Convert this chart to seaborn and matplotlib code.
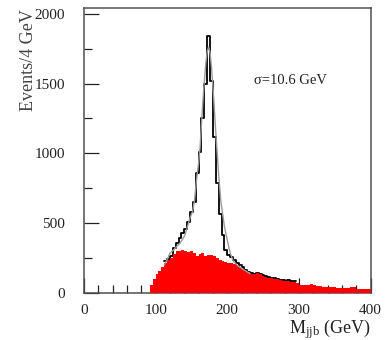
import numpy as np
import pandas as pd
import matplotlib
matplotlib.use("Agg")
import matplotlib.pyplot as plt
import seaborn as sns
from matplotlib.ticker import MultipleLocator, FixedLocator

# ---------------- data ----------------
bin_width = 4  # GeV

# red filled histogram (background), bins starting at 92 GeV
bkg_start = 92
bkg_counts = [59, 100, 140, 160, 190, 215, 235, 255, 280, 300,
              300, 310, 300, 295, 300, 290, 265, 280, 285, 265,
              275, 275, 270, 250, 235, 228, 226, 220, 215, 212,
              200, 190, 175, 162, 150, 140, 135, 145, 135, 125,
              120, 112, 108, 105, 100, 95, 88, 86, 88, 82,
              84, 75, 62, 60, 58, 62, 64, 56, 54, 50,
              48, 47, 46, 44, 42, 40, 38, 40, 36, 38,
              46, 42, 34, 32, 32, 30, 28]

# black outlined histogram (total), bins starting at 112 GeV
tot_start = 112
tot_counts = [228, 245, 265, 322, 360, 395, 430, 460, 510, 580,
              655, 860, 1010, 1250, 1500, 1838, 1520, 1120, 790, 570,
              420, 310, 273, 259, 237, 215, 200, 185, 168, 154,
              145, 140, 148, 138, 128, 122, 115, 110, 107, 102,
              97, 92, 90, 92, 88, 86]

# grey fitted curve, sampled points (GeV, events)
fit_mass = [112, 116, 120, 124, 127, 130, 134, 138, 141, 145.5,
            148, 151.5, 154.3, 157.6, 160, 162, 164.6, 167, 170, 172,
            174, 176, 178, 181, 184, 188, 191, 196, 200, 204,
            208, 214, 222, 232]
fit_counts = [202, 240, 286, 305, 321, 338, 359, 390, 416, 495,
              540, 583, 666, 833, 930, 1040, 1261, 1450, 1640, 1730,
              1760, 1720, 1620, 1400, 1150, 850, 660, 480, 380, 290,
              235, 200, 172, 140]

x_ticks = [0, 100, 200, 300, 400]
y_ticks = [0, 500, 1000, 1500, 2000]
x_label = r"M$_{\mathrm{jjb}}$ (GeV)"
y_label = "Events/4 GeV"
sigma_label = "σ=10.6 GeV"

# ---------------- figure ----------------
sns.set_theme(style="ticks")
plt.rcParams["font.family"] = ["Liberation Serif", "DejaVu Serif"]
plt.rcParams["mathtext.fontset"] = "custom"
plt.rcParams["mathtext.rm"] = "Liberation Serif"
plt.rcParams["mathtext.it"] = "Liberation Serif:italic"

fig = plt.figure(figsize=(3.86, 3.40), dpi=100)
fig.patch.set_facecolor("white")
ax = fig.add_axes([84 / 386, 1 - 293.3 / 340, 286.5 / 386, 285.3 / 340])

bkg_edges = [float(bkg_start + bin_width * i) for i in range(len(bkg_counts) + 1)]
bkg_centers = [e + bin_width / 2 for e in bkg_edges[:-1]]
tot_edges = [float(tot_start + bin_width * i) for i in range(len(tot_counts) + 1)]
tot_centers = [e + bin_width / 2 for e in tot_edges[:-1]]

df_tot = pd.DataFrame({"m": tot_centers, "n": tot_counts})
df_bkg = pd.DataFrame({"m": bkg_centers, "n": bkg_counts})
df_fit = pd.DataFrame({"m": fit_mass, "n": fit_counts})

sns.histplot(data=df_tot, x="m", weights="n", bins=tot_edges, element="step",
             fill=False, color="black", linewidth=1.3, ax=ax, zorder=2)
sns.histplot(data=df_bkg, x="m", weights="n", bins=bkg_edges, element="step",
             fill=True, color="#ff0000", alpha=1, linewidth=0, ax=ax, zorder=3)
sns.lineplot(data=df_fit, x="m", y="n", color="#9a9a9a", linewidth=1.0,
             ax=ax, zorder=4, sort=True)

ax.set_xlim(0, 400)
ax.set_ylim(0, 2040)

spine_c = "#505050"
for s in ax.spines.values():
    s.set_visible(True)
    s.set_color(spine_c)
    s.set_linewidth(1.1)

ax.xaxis.set_major_locator(FixedLocator(x_ticks))
ax.xaxis.set_minor_locator(MultipleLocator(20))
ax.yaxis.set_major_locator(FixedLocator(y_ticks))
ax.yaxis.set_minor_locator(MultipleLocator(250))

ax.tick_params(axis="both", which="both", direction="in", top=False,
               right=False, color="#222222", width=0.9, labelcolor="#222222",
               labelsize=11)
ax.tick_params(axis="both", which="major", length=11)
ax.tick_params(axis="both", which="minor", length=5.8)
ax.tick_params(axis="y", which="major", pad=13.5)
ax.tick_params(axis="x", which="major", pad=8.0)

ax.set_xlabel(x_label, fontsize=13, color="#222222", loc="right")
ax.set_ylabel(y_label, fontsize=13, color="#444444", loc="top")
ax.xaxis.set_label_coords(1.0, -0.082)
ax.yaxis.set_label_coords(-0.165, 0.995)

ax.text(238, 1524, sigma_label, fontsize=10.5, color="#222222",
        ha="left", va="center")

fig.savefig("out.png", dpi=100, facecolor="white")
